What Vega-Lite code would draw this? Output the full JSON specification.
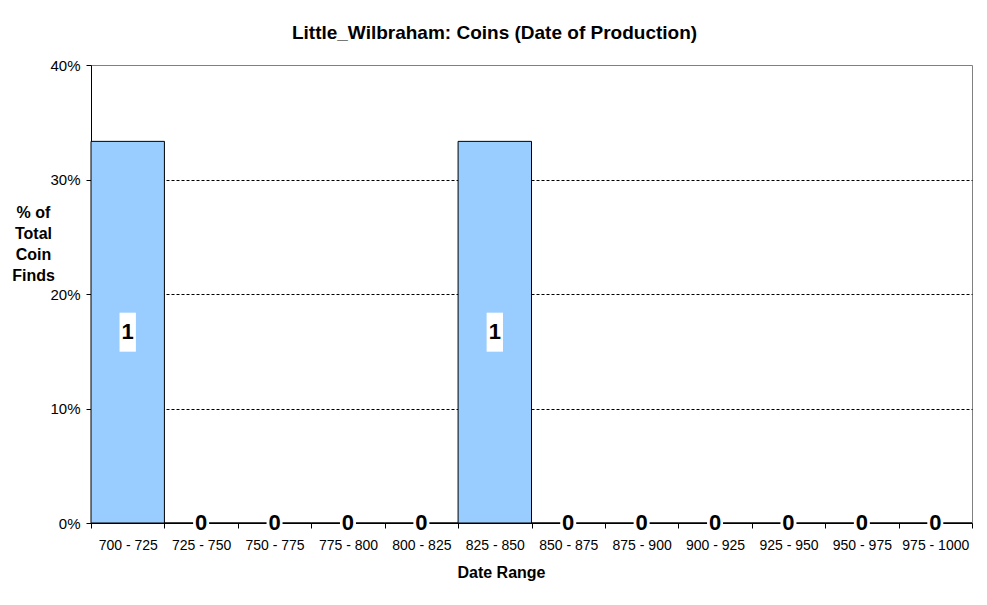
{
  "$schema": "https://vega.github.io/schema/vega-lite/v6.json",
  "width": 881,
  "height": 458,
  "autosize": {"type": "none"},
  "padding": {"left": 91, "top": 65, "right": 15, "bottom": 82},
  "background": "white",
  "config": {"font": "Liberation Sans", "view": {"stroke": "#808080", "strokeWidth": 1}},
  "title": {"text": "Little_Wilbraham: Coins (Date of Production)", "fontSize": 19, "fontWeight": "bold", "color": "black", "anchor": "middle", "frame": "group", "dx": -37, "dy": 22, "offset": 22, "baseline": "alphabetic"},
  "data": {"values": [
    {"range": "700 - 725", "count": 1, "pct": 0.3333},
    {"range": "725 - 750", "count": 0, "pct": 0},
    {"range": "750 - 775", "count": 0, "pct": 0},
    {"range": "775 - 800", "count": 0, "pct": 0},
    {"range": "800 - 825", "count": 0, "pct": 0},
    {"range": "825 - 850", "count": 1, "pct": 0.3333},
    {"range": "850 - 875", "count": 0, "pct": 0},
    {"range": "875 - 900", "count": 0, "pct": 0},
    {"range": "900 - 925", "count": 0, "pct": 0},
    {"range": "925 - 950", "count": 0, "pct": 0},
    {"range": "950 - 975", "count": 0, "pct": 0},
    {"range": "975 - 1000", "count": 0, "pct": 0}
  ]},
  "layer": [
    {
      "mark": {"type": "bar", "fill": "#99CCFF", "stroke": "black", "strokeWidth": 1},
      "encoding": {
        "x": {"field": "range", "type": "nominal", "sort": null, "scale": {"paddingInner": 0, "paddingOuter": 0},
          "axis": {"title": "Date Range", "titleFontSize": 16, "titleFontWeight": "bold", "titleColor": "black", "titleX": 410, "titleY": 49, "titleBaseline": "middle",
            "labelAngle": 0, "labelFontSize": 14, "labelColor": "black", "labelPadding": 10, "labelOverlap": false, "labelLimit": 200,
            "tickBand": "extent", "tickSize": 5, "tickColor": "black", "domainColor": "black", "grid": false}},
        "y": {"field": "pct", "type": "quantitative", "scale": {"domain": [0, 0.4]},
          "axis": {"format": ".0%", "values": [0, 0.1, 0.2, 0.3, 0.4], "title": ["% of", "Total", "Coin", "Finds"], "titleAngle": 0, "titleFontSize": 16, "titleFontWeight": "bold", "titleLineHeight": 21, "titleAlign": "center", "titleBaseline": "top", "titleX": -58, "titleY": 139, "titleColor": "black",
            "labelFontSize": 15, "labelColor": "black", "labelPadding": 6, "tickSize": 5, "tickColor": "black", "domainColor": "black",
            "grid": true, "gridColor": "black", "gridDash": [3, 2], "gridOpacity": {"condition": {"test": "datum.value <= 0 || datum.value >= 0.4", "value": 0}, "value": 1}}}
      }
    },
    {
      "encoding": {
        "x": {"field": "range", "type": "nominal", "sort": null},
        "y": {"field": "pct", "type": "quantitative", "scale": {"domain": [0, 0.8]}, "axis": null}
      },
      "layer": [
        {"transform": [{"filter": "datum.count > 0"}], "mark": {"type": "point", "shape": "M-0.42,-1H0.42V1H-0.42Z", "size": 1521, "filled": true, "fill": "white", "opacity": 1, "strokeWidth": 0}},
        {"transform": [{"filter": "datum.count == 0"}], "mark": {"type": "point", "shape": "M-0.8,-1H0.8V1H-0.8Z", "size": 400, "filled": true, "fill": "white", "opacity": 1, "strokeWidth": 0}},
        {"mark": {"type": "text", "fontSize": 22, "fontWeight": "bold", "color": "black", "baseline": "middle", "align": "center"}, "encoding": {"text": {"field": "count", "type": "quantitative"}}}
      ]
    }
  ],
  "resolve": {"scale": {"y": "independent"}}
}
